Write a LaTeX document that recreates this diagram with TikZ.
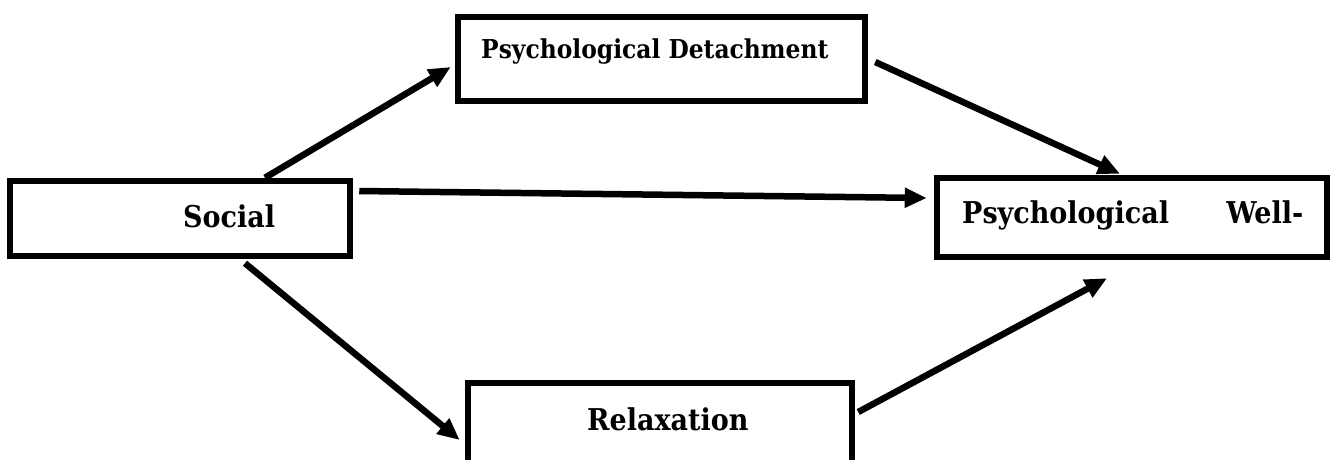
\documentclass[tikz,border=0pt]{standalone}
\usepackage{fontspec}
\setmainfont{DejaVu Serif Condensed}
\usetikzlibrary{arrows.meta}
\tikzset{
  box/.style={draw=black, line width=6.5pt, rectangle, inner sep=0pt},
  lbl/.style={font=\bfseries\fontsize{30}{33}\selectfont, inner sep=0pt, anchor=base west},
  lblsmall/.style={font=\bfseries\fontsize{26}{29}\selectfont, inner sep=0pt, anchor=base west},
  conn/.style={line width=6.5pt, -{Triangle[length=22pt,width=19pt]}, shorten >=0pt}
}
\begin{document}
\begin{tikzpicture}[x=1pt, y=-1pt]
\fill[white] (0,0) rectangle (1333,459);
\useasboundingbox (0,0) rectangle (1333,459);
\clip (0,0) rectangle (1333,459);
% boxes
\node[box, minimum width=340pt, minimum height=75pt] (soc) at (180,218.5) {};
\node[box, minimum width=407pt, minimum height=84pt] (pd) at (661.5,59) {};
\node[box, minimum width=390pt, minimum height=79pt] (pwb) at (1132,217.5) {};
\node[box, minimum width=384pt, minimum height=100pt] (rel) at (660,433) {};
% labels
\node[lblsmall] (tpd) at (481,58) {Psychological Detachment};
\node[lbl] (tsoc) at (183,227) {Social};
\node[lbl] (tpwb) at (962,223) {\makebox[341pt][s]{Psychological\hfill Well-}};
\node[lbl] (trel) at (587,430) {Relaxation};
% connectors
\draw[conn] ([xshift=85pt]soc.north) -- ([xshift=-4pt,yshift=-8pt]pd.west);
\draw[conn] ([xshift=6pt,yshift=27.5pt]soc.east) -- ([xshift=-7pt,yshift=19.5pt]pwb.west);
\draw[conn] ([xshift=7pt,yshift=-3pt]pd.east) -- ([xshift=-12pt,yshift=1pt]pwb.north);
\draw[conn] ([xshift=65pt,yshift=-4pt]soc.south) -- ([xshift=-5pt,yshift=-7pt]rel.west);
\draw[conn] ([xshift=3pt,yshift=21pt]rel.east) -- ([xshift=-25pt,yshift=-18pt]pwb.south);
\end{tikzpicture}
\end{document}
